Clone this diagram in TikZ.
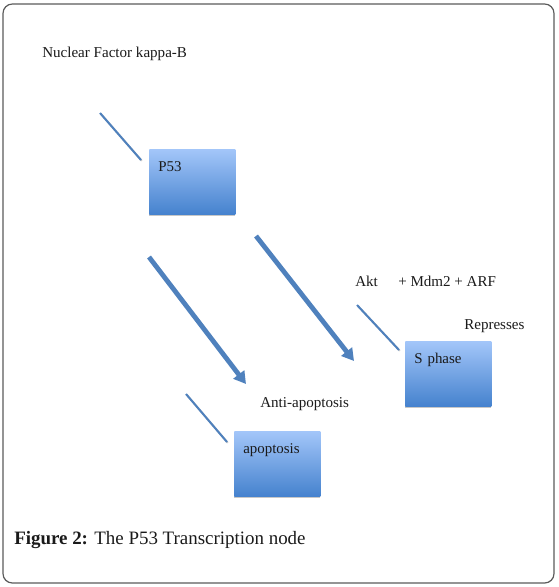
\documentclass[tikz,border=0pt]{standalone}
\usepackage{fontspec}
\setmainfont{Liberation Serif}
\usepackage{tikz}
\usetikzlibrary{arrows.meta,positioning,calc}
\definecolor{cBlue}{HTML}{4F81BD}
\definecolor{cTop}{HTML}{A3C6F9}
\definecolor{cBot}{HTML}{4582CE}
\definecolor{cFrame}{HTML}{5A5A5A}
\definecolor{cInk}{HTML}{1A1A1A}
\tikzset{
  gbox/.style={top color=cTop,bottom color=cBot,anchor=north west,
    minimum width=64.5pt,text width=51pt,align=left,inner xsep=6.75pt,inner ysep=3pt,
    text height=14pt,text depth=28.75pt,font=\fontsize{11.2}{13}\selectfont,text=cInk,
    preaction={fill=black!22,transform canvas={yshift=-1.6pt}}},
  txt/.style={anchor=west,inner sep=0pt,font=\fontsize{11.3}{13}\selectfont,text=cInk},
  thin/.style={draw=cBlue,line width=1.5pt,
    preaction={draw=black!20,line width=1.5pt,transform canvas={shift={(0.6pt,-0.6pt)}}}},
  thick/.style={-{Triangle[length=9pt,width=10pt]},draw=cBlue,line width=3.6pt},
}
\begin{document}
\begin{tikzpicture}[x=0.75pt,y=-0.75pt]
  \useasboundingbox (0,0) rectangle (559,587);
  \draw[cFrame,line width=0.9pt,rounded corners=7pt] (3,4) rectangle (554,583);
  % labels
  \node[txt] (nfkb) at (42,54) {Nuclear Factor kappa-B};
  \node[txt] (akt) at (355,281) {Akt};
  \node[txt] (mdm) at (398,281) {+ Mdm2 + ARF};
  \node[txt] (repr) at (464,326) {Represses};
  \node[txt] (anti) at (260,404) {Anti-apoptosis};
  % boxes
  \node[gbox] (p53) at (149,149) {P53};
  \node[gbox] (sphase) at (405,341) {S~phase};
  \node[gbox] (apop) at (234,431) {apoptosis};
  % line ends
  \coordinate (nf1) at (100,113);
  \coordinate (nf2) at (141,160);
  \coordinate (ak1) at (357,305);
  \coordinate (ak2) at (399,350);
  \coordinate (ap1) at (186,394);
  \coordinate (ap2) at (227,442);
  \coordinate (a1s) at (149,257);
  \coordinate (a1e) at (246,384);
  \coordinate (a2s) at (256,236);
  \coordinate (a2e) at (354,361);
  \draw[thin] (nf1) -- (nf2);
  \draw[thin] (ak1) -- (ak2);
  \draw[thin] (ap1) -- (ap2);
  \draw[thick] (a1s) -- (a1e);
  \draw[thick] (a2s) -- (a2e);
  % caption
  \node[txt,font=\fontsize{14.2}{16}\selectfont] (cap) at (14,540) {\textbf{Figure 2:} The P53 Transcription node};
\end{tikzpicture}
\end{document}
